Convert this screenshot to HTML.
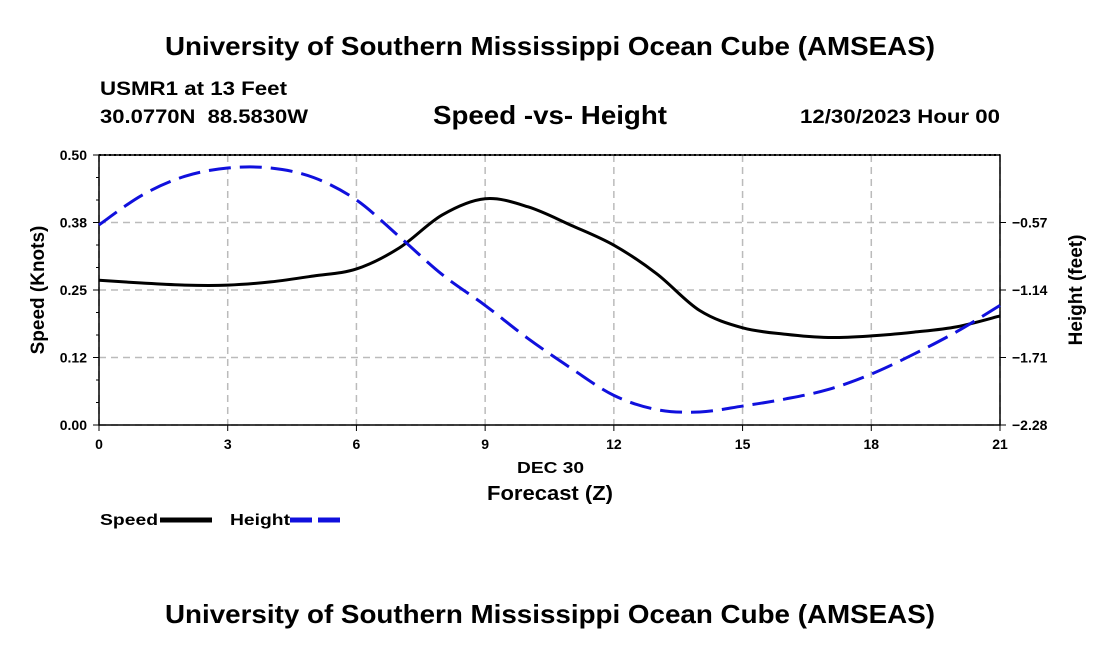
<!DOCTYPE html>
<html><head><meta charset="utf-8"><style>
body{margin:0;background:#fff;}
svg{display:block;font-family:"Liberation Sans",Arial,sans-serif;font-weight:bold;}
</style></head><body>
<svg id="chart" width="1100" height="650" viewBox="0 0 1100 650">
<text x="165" y="55" font-size="26" textLength="770" lengthAdjust="spacingAndGlyphs">University of Southern Mississippi Ocean Cube (AMSEAS)</text>
<text x="100" y="95" font-size="19" textLength="187" lengthAdjust="spacingAndGlyphs">USMR1 at 13 Feet</text>
<text x="100" y="123" font-size="19" textLength="208" lengthAdjust="spacingAndGlyphs" xml:space="preserve">30.0770N  88.5830W</text>
<text x="433" y="124" font-size="26" textLength="234" lengthAdjust="spacingAndGlyphs">Speed -vs- Height</text>
<text x="800" y="123" font-size="19" textLength="200" lengthAdjust="spacingAndGlyphs">12/30/2023 Hour 00</text>
<g id="grid"></g>
<g id="axes"></g>
<g id="series"></g>
<text x="517" y="473" font-size="16" textLength="67" lengthAdjust="spacingAndGlyphs">DEC 30</text>
<text x="487" y="500" font-size="20" textLength="126" lengthAdjust="spacingAndGlyphs">Forecast (Z)</text>
<text transform="translate(44,290) rotate(-90)" text-anchor="middle" font-size="19">Speed (Knots)</text>
<text transform="translate(1082,290) rotate(-90)" text-anchor="middle" font-size="19">Height (feet)</text>
<g>
<text x="100" y="525" font-size="16" textLength="58" lengthAdjust="spacingAndGlyphs">Speed</text>
<line x1="160" y1="520" x2="212" y2="520" stroke="#000" stroke-width="5"/>
</g>
<g>
<text x="230" y="525" font-size="16" textLength="60" lengthAdjust="spacingAndGlyphs">Height</text>
<line x1="290" y1="520" x2="342" y2="520" stroke="#1010dd" stroke-width="5" stroke-dasharray="22,6"/>
</g>
<text x="165" y="623" font-size="26" textLength="770" lengthAdjust="spacingAndGlyphs">University of Southern Mississippi Ocean Cube (AMSEAS)</text>
</svg>
<script>
const hours=[0,1,2,3,4,5,6,7,8,9,10,11,12,13,14,15,16,17,18,19,20,21];
const speed=[0.268,0.263,0.259,0.259,0.265,0.276,0.289,0.328,0.389,0.419,0.404,0.37,0.333,0.28,0.212,0.18,0.168,0.162,0.165,0.172,0.182,0.202];
const height=[-0.59,-0.34,-0.18,-0.11,-0.11,-0.19,-0.38,-0.69,-1.01,-1.27,-1.55,-1.80,-2.03,-2.15,-2.17,-2.12,-2.06,-1.98,-1.85,-1.68,-1.49,-1.27];
const xTicks=[0,3,6,9,12,15,18,21];
const yTicks=[0,0.125,0.25,0.375,0.5];
const yTickLabels=["0.00","0.12","0.25","0.38","0.50"];
const y2Ticks=[-2.28,-1.71,-1.14,-0.57];
const y2TickLabels=["\u22122.28","\u22121.71","\u22121.14","\u22120.57"];
const L=99,R=1000,T=155,B=425;
const xs=h=>L+(h-0)/21*(R-L);
const ys=v=>B-(v/0.5)*(B-T);
const ys2=v=>B-((v+2.28)/2.28)*(B-T);
const NS='http://www.w3.org/2000/svg';
function mk(tag,attrs,parent){const e=document.createElementNS(NS,tag);for(const k in attrs)e.setAttribute(k,attrs[k]);parent.appendChild(e);return e;}
const grid=document.getElementById('grid'),axes=document.getElementById('axes'),series=document.getElementById('series');
xTicks.forEach(t=>{
 const g=mk('line',{x1:xs(t),x2:xs(t),y1:T,y2:B,stroke:'#bbb','stroke-width':1.5,'stroke-dasharray':'7,5'},grid);
 
 
 mk('line',{x1:xs(t),x2:xs(t),y1:B,y2:B+6,stroke:'#000','stroke-width':1},axes);
 const tx=mk('text',{x:xs(t),y:B+24,'text-anchor':'middle','font-size':14},axes);tx.textContent=t;
 
 
});
yTicks.forEach((t,i)=>{
 const g=mk('line',{x1:L,x2:R,y1:ys(t),y2:ys(t),stroke:'#bbb','stroke-width':1.5,'stroke-dasharray':'7,5'},grid);
 
 
 mk('line',{x1:L-6,x2:L,y1:ys(t),y2:ys(t),stroke:'#000'},axes);
 const tx=mk('text',{x:L-12,y:ys(t)+5,'text-anchor':'end','font-size':14},axes);tx.textContent=yTickLabels[i];
 
 
});
for(let v=0;v<=0.5;v+=0.125/3){mk('line',{x1:L-3,x2:L,y1:ys(v),y2:ys(v),stroke:'#000'},axes);}
y2Ticks.forEach((t,i)=>{
 mk('line',{x1:R,x2:R+6,y1:ys2(t),y2:ys2(t),stroke:'#000'},axes);
 const tx=mk('text',{x:R+12,y:ys2(t)+5,'font-size':14},axes);tx.textContent=y2TickLabels[i];
 
 
});
const frame=mk('rect',{x:L,y:T,width:R-L,height:B-T,fill:'none',stroke:'#000','stroke-width':1.5},axes);


mk('line',{x1:L,x2:R,y1:T,y2:T,stroke:'#000','stroke-width':2,'stroke-dasharray':'2,3'},axes);
function path(vals,yf){
 const p=hours.map((h,i)=>[xs(h),yf(vals[i])]);
 let d='M'+p[0][0]+','+p[0][1];
 for(let i=0;i<p.length-1;i++){
  const p0=p[i-1]||p[i],p1=p[i],p2=p[i+1],p3=p[i+2]||p2;
  const c1x=p1[0]+(p2[0]-p0[0])/6,c1y=p1[1]+(p2[1]-p0[1])/6;
  const c2x=p2[0]-(p3[0]-p1[0])/6,c2y=p2[1]-(p3[1]-p1[1])/6;
  d+=` C${c1x},${c1y} ${c2x},${c2y} ${p2[0]},${p2[1]}`;
 }
 return d;
}
const sp=mk('path',{d:path(speed,ys),fill:'none',stroke:'#000','stroke-width':3},series);


const hp=mk('path',{d:path(height,ys2),fill:'none',stroke:'#1010dd','stroke-width':3,'stroke-dasharray':'22,9'},series);


</script>
</body></html>
